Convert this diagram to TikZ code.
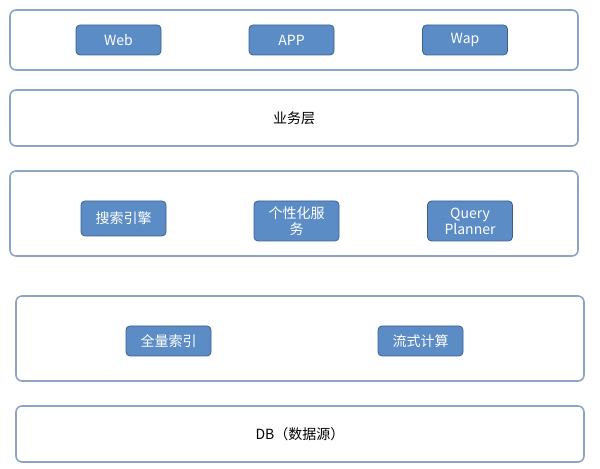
\documentclass[tikz,border=0pt]{standalone}
\usepackage{fontspec}
\setmainfont{Noto Sans CJK SC}
\usetikzlibrary{positioning}
\definecolor{layerline}{HTML}{8EA4C4}
\definecolor{btnfill}{HTML}{5B8CC6}
\definecolor{btnline}{HTML}{3C5F8E}
\begin{document}
\begin{tikzpicture}[x=0.5pt, y=-0.5pt,
    layer/.style={draw=layerline, line width=0.8pt, rounded corners=3pt},
    btn/.style={rectangle, draw=btnline, fill=btnfill, text=white, rounded corners=2pt,
        minimum width=42.5pt, minimum height=15pt, align=center, inner sep=1pt,
        font=\fontsize{7}{8}\selectfont},
    label/.style={font=\fontsize{7}{8}\selectfont}]
    \useasboundingbox (0,0) rectangle (600,469);

    % Layers
    \draw[layer] (10,10) rectangle (578,70);
    \draw[layer] (10,90) rectangle (578,146);
    \draw[layer] (10,171) rectangle (578,256);
    \draw[layer] (16,296) rectangle (584,381);
    \draw[layer] (16,406) rectangle (584,462);

    % Top - clients
    \node[btn] (web) at (118.5,40) {Web};
    \node[btn] (app) at (291.5,40) {APP};
    \node[btn] (wap) at (465,40) {Wap};

    % Business
    \node[label] (biz) at (294,118) {业务层};

    % Services
    \node[btn, minimum height=17.5pt] (search) at (123.5,218.5) {搜索引擎};
    \node[btn, minimum height=20pt] (pers) at (296.5,221) {个性化服\\务};
    \node[btn, minimum height=20pt] (query) at (470,221) {Query\\Planner};

    % Computing
    \node[btn] (full) at (168.5,341) {全量索引};
    \node[btn] (stream) at (420.5,341) {流式计算};

    % Data source
    \node[label] (db) at (300,434) {DB（数据源）};
\end{tikzpicture}
\end{document}
